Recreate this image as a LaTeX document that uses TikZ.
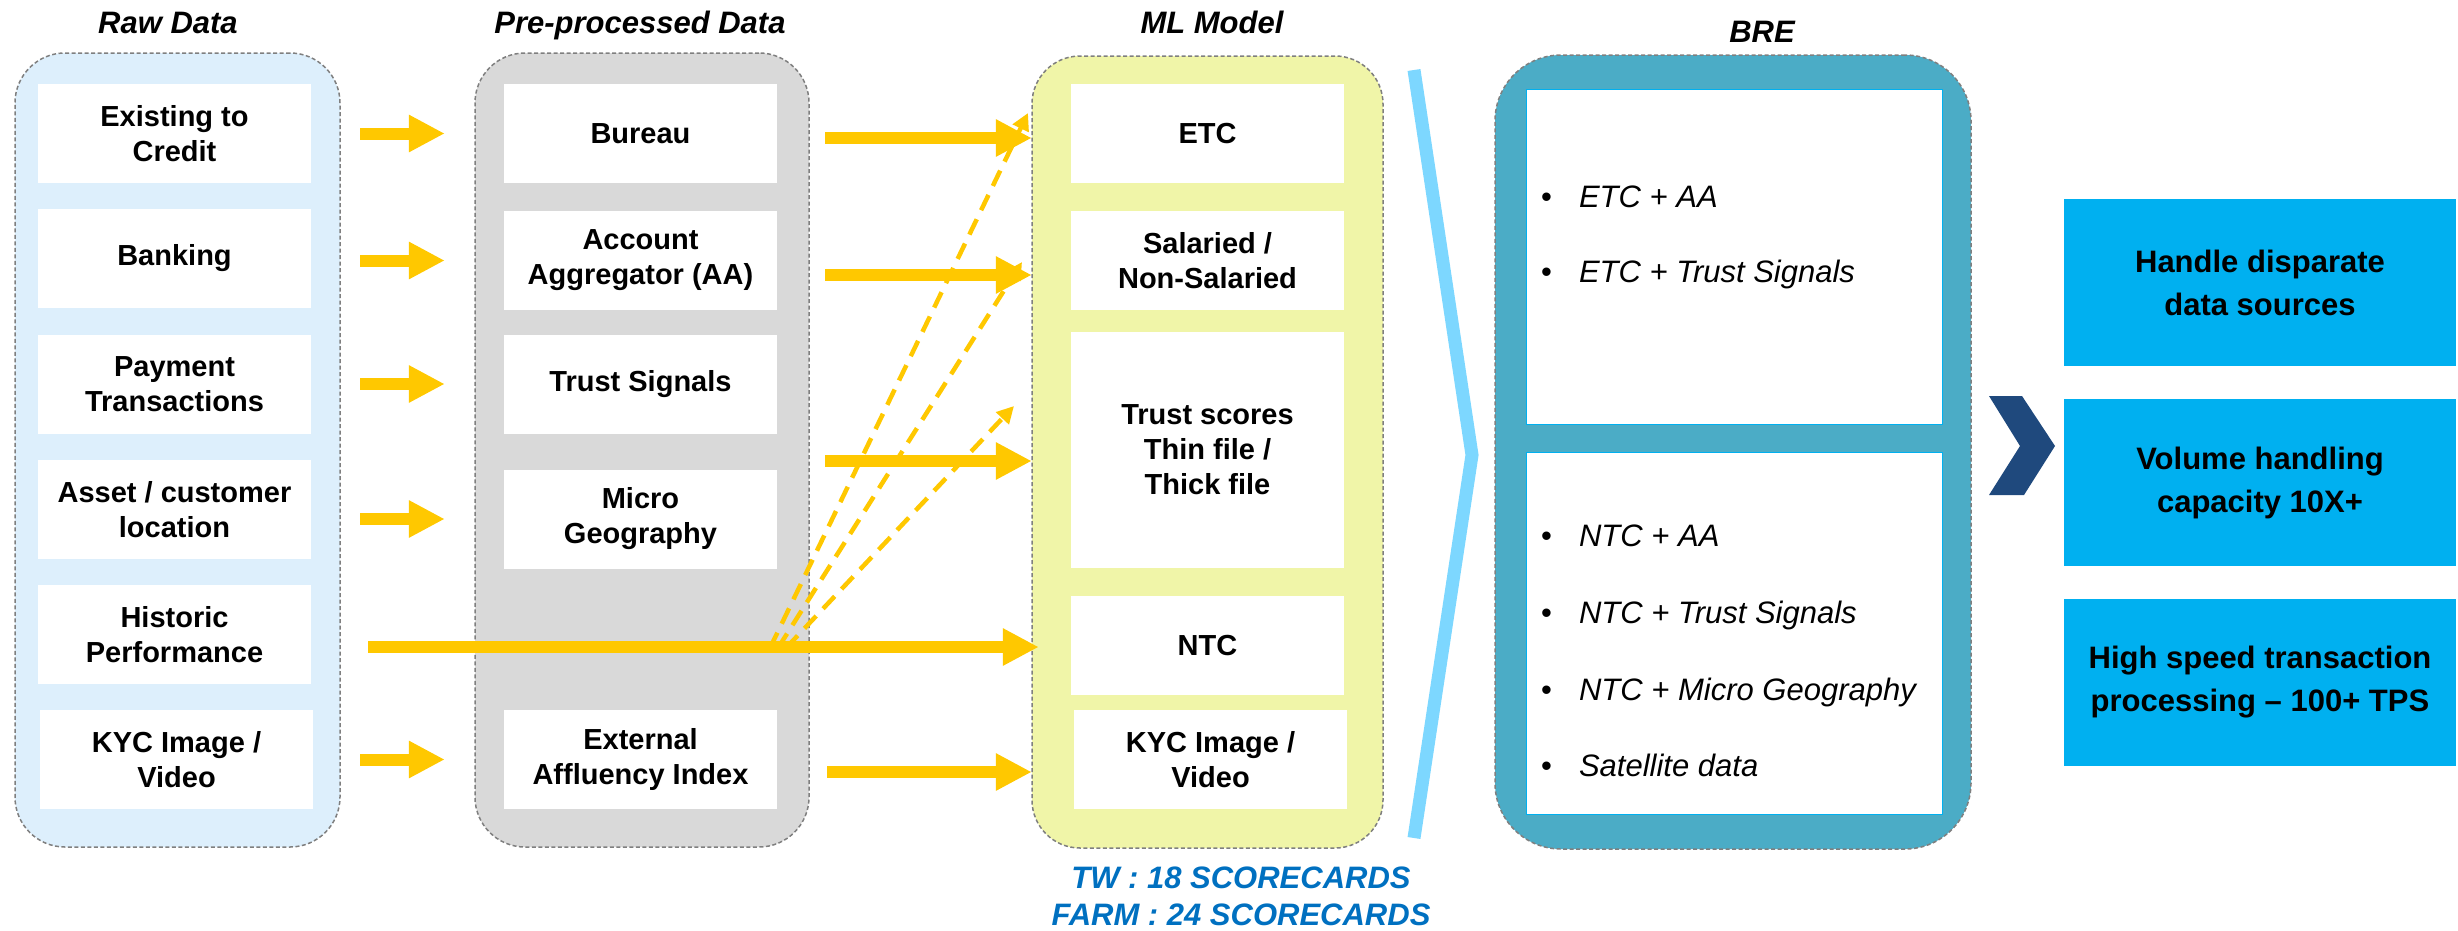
\documentclass[tikz,border=0pt]{standalone}
\usepackage{fontspec}
\setmainfont{Liberation Sans}
\usetikzlibrary{arrows.meta,calc}

\definecolor{rawfill}{RGB}{221,239,252}
\definecolor{prefill}{RGB}{217,217,217}
\definecolor{mlfill}{RGB}{240,245,168}
\definecolor{brefill}{RGB}{75,172,198}
\definecolor{flow}{RGB}{255,200,0}
\definecolor{sky}{RGB}{0,176,240}
\definecolor{pale}{RGB}{125,215,255}
\definecolor{navy}{RGB}{31,73,125}
\definecolor{cardblue}{RGB}{0,112,192}
\definecolor{edge}{RGB}{127,127,127}

\begin{document}
\begin{tikzpicture}[x=1pt,y=-1pt,
  panel/.style={draw=edge, line width=1.5pt, dash pattern=on 4pt off 2.5pt,
    rounded corners=#1, inner sep=0pt},
  heading/.style={font=\fontsize{31}{37}\selectfont\bfseries\itshape, inner sep=0pt},
  card/.style={fill=white, minimum width=273pt, minimum height=99pt, inner sep=0pt,
    align=center, font=\fontsize{29}{35}\selectfont\bfseries},
  item/.style={font=\fontsize{31}{37}\selectfont\itshape, inner sep=0pt, anchor=base west},
  feat/.style={fill=sky, minimum width=392pt, minimum height=167pt, inner sep=0pt,
    align=center, font=\fontsize{31}{43}\selectfont\bfseries},
  tally/.style={text=cardblue, font=\fontsize{31}{37}\selectfont\bfseries\itshape,
    inner sep=0pt, anchor=base},
  fat/.style={draw=flow, line width=12pt,
    -{Triangle[length=36pt,width=35pt]}},
  hint/.style={draw=flow, line width=4.5pt, dash pattern=on 17pt off 10pt,
    -{Triangle[length=17pt,width=17pt]}}
]
\useasboundingbox (0,0) rectangle (2458,930);

% column headings
\node[heading, anchor=base] (hraw) at (168,33) {Raw Data};
\node[heading, anchor=base] (hpre) at (640,33) {Pre-processed Data};
\node[heading, anchor=base] (hml)  at (1212,33) {ML Model};
\node[heading, anchor=base] (hbre) at (1762,42) {BRE};

% column panels
\node[panel=50pt, fill=rawfill, minimum width=325pt, minimum height=794pt] (rawpanel) at (177.5,450) {};
\node[panel=50pt, fill=prefill, minimum width=334pt, minimum height=794pt] (prepanel) at (642,450) {};
\node[panel=48pt, fill=mlfill, minimum width=351pt, minimum height=792pt] (mlpanel) at (1207.5,452) {};
\node[panel=66pt, fill=brefill, minimum width=476pt, minimum height=794pt] (brepanel) at (1733,452) {};

% raw data sources
\node[card] (r1) at (174.5,133.5) {Existing to\\Credit};
\node[card] (r2) at (174.5,258.5) {Banking};
\node[card] (r3) at (174.5,384) {Payment\\Transactions};
\node[card] (r4) at (174.5,509.5) {Asset / customer\\location};
\node[card] (r5) at (174.5,634.5) {Historic\\Performance};
\node[card] (r6) at (176.5,759.5) {KYC Image /\\Video};

% pre-processed data
\node[card] (p1) at (640.5,133.5) {Bureau};
\node[card] (p2) at (640.5,260.5) {Account\\Aggregator (AA)};
\node[card] (p3) at (640.5,384) {Trust Signals};
\node[card] (p4) at (640.5,519) {Micro\\Geography};
\node[card] (p5) at (640.5,759.5) {External\\Affluency Index};

% model segments
\node[card] (m1) at (1207.5,133.5) {ETC};
\node[card] (m2) at (1207.5,260.5) {Salaried /\\Non-Salaried};
\node[card, minimum height=236pt] (m3) at (1207.5,450) {Trust scores\\Thin file /\\Thick file};
\node[card] (m4) at (1207.5,645.5) {NTC};
\node[card] (m5) at (1210.5,759.5) {KYC Image /\\Video};

% rule engine combinations
\node[fill=white, draw=sky, line width=1pt, minimum width=416pt, minimum height=335pt, inner sep=0pt] (bre1) at (1734,256.5) {};
\node[fill=white, draw=sky, line width=1pt, minimum width=416pt, minimum height=362pt, inner sep=0pt] (bre2) at (1734,633) {};
\node[item] (b1) at (1541,207) {\textup{\textbullet}\hspace{27pt}ETC + AA};
\node[item] (b2) at (1541,282) {\textup{\textbullet}\hspace{27pt}ETC + Trust Signals};
\node[item] (b3) at (1541,546) {\textup{\textbullet}\hspace{27pt}NTC + AA};
\node[item] (b4) at (1541,623) {\textup{\textbullet}\hspace{27pt}NTC + Trust Signals};
\node[item] (b5) at (1541,700) {\textup{\textbullet}\hspace{27pt}NTC + Micro Geography};
\node[item] (b6) at (1541,776) {\textup{\textbullet}\hspace{27pt}Satellite data};

% scorecard counts
\node[tally] (tw) at (1241,888) {TW : 18 SCORECARDS};
\node[tally] (farm) at (1241,925) {FARM : 24 SCORECARDS};

% capabilities
\node[feat] (f1) at (2260,282.5) {Handle disparate\\data sources};
\node[feat] (f2) at (2260,482.5) {Volume handling\\capacity 10X+};
\node[feat] (f3) at (2260,682.5) {High speed transaction\\processing -- 100+ TPS};

% separators
\draw[pale, line width=13pt, line join=miter] (1414,70) -- (1472,455) -- (1414,838);
\fill[navy] (1989,396) -- (2022,396) -- (2055,446) -- (2024,495) -- (1989,495) -- (2020,446) -- cycle;

% raw -> pre-processed
\foreach \p in {p1,p2,p3,p4,p5}
  \draw[fat] ($(r1.east |- \p.west)+(49,0)$) -- ($(\p.west)+(-59,0)$);

% pre-processed -> model
\draw[fat] ($(p1.east |- m1.west)+(48,4.5)$) -- ($(m1.west)+(-39,4.5)$);
\draw[fat] ($(p2.east |- m2.west)+(48,14.5)$) -- ($(m2.west)+(-39,14.5)$);
\draw[fat] ($(p3.east |- m3.west)+(48,11)$) -- ($(m3.west)+(-39,11)$);
\draw[fat] ($(p5.east |- m5.west)+(50,12.5)$) -- ($(m5.west)+(-42,12.5)$);
\draw[fat] ($(r5.east)+(57,12.5)$) -- ($(r5.east -| m4.west)+(-32,12.5)$);

% historic performance feeding the other models
\coordinate (h1) at (770,648);
\coordinate (h2) at (778,648);
\coordinate (h3) at (786,648);
\coordinate (e1) at (1028,113);
\coordinate (e2) at (1022,262);
\coordinate (e3) at (1014,406);
\draw[hint] (h1) -- (e1);
\draw[hint] (h2) -- (e2);
\draw[hint] (h3) -- (e3);
\end{tikzpicture}
\end{document}
